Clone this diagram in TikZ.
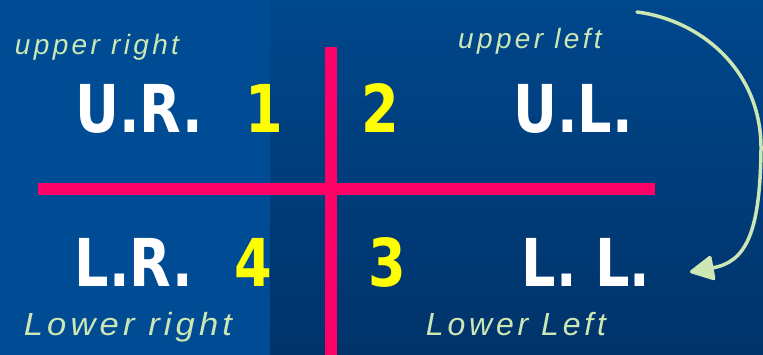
\documentclass[tikz,border=0pt]{standalone}
\usepackage{fontspec}
\usepackage{tikz}
\usetikzlibrary{arrows.meta}
\newfontfamily\labelfont{DejaVu Sans}
\newfontfamily\handfont[LetterSpace=12]{Liberation Sans}
\definecolor{leftblue}{RGB}{0, 76, 148}
\definecolor{topblue}{RGB}{0, 71, 140}
\definecolor{bottomblue}{RGB}{0, 51, 106}
\definecolor{crosspink}{RGB}{255, 0, 102}
\definecolor{numyellow}{RGB}{255, 255, 0}
\definecolor{handgreen}{RGB}{204, 230, 180}

\begin{document}
\begin{tikzpicture}[x=1pt, y=-1pt,
		quad/.style={text=white, anchor=base, inner sep=0pt, xscale=0.82, font=\labelfont\bfseries\fontsize{66}{66}\selectfont},
		num/.style={quad, text=numyellow},
		hand/.style={text=handgreen, inner sep=0pt, font=\handfont\itshape\fontsize{28}{28}\selectfont},
		bighand/.style={hand, font=\handfont\itshape\fontsize{32}{32}\selectfont}]
					\useasboundingbox (0,0) rectangle (763,355);
					\fill[leftblue] (0,0) rectangle (270,355);
					\shade[top color=topblue, bottom color=bottomblue] (270,0) rectangle (763,355);
					% cross
					\draw[crosspink, line width=12pt] (331,47) -- (331,355);
					\draw[crosspink, line width=12pt] (38,189) -- (655,189);
					% quadrants
					\node[quad] (ur) at (139,133) {U.R.};
					\node[num] (one) at (264,133) {1};
					\node[num] (two) at (380,133) {2};
					\node[quad] (ul) at (573,133) {U.L.};
					\node[quad] (lr) at (134,287) {L.R.};
					\node[num] (four) at (253,287) {4};
					\node[num] (three) at (387,287) {3};
					\node[quad] (ll) at (586,287) {L. L.};
					% notes
					\node[hand] (urnote) at (97,47) {upper right};
					\node[hand] (ulnote) at (530,41) {upper left};
					\node[bighand, xscale=1.08] (lrnote) at (128,327) {Lower right};
					\node[bighand] (llnote) at (516,324) {Lower Left};
					\coordinate (from) at (637,12);
					\coordinate (to) at (690,272);
					\draw[handgreen, line width=3.5pt, line cap=round, -{Triangle[length=26pt, width=26pt, round]}]
						(from) .. controls (700,20) and (762,70) .. (761,150)
						.. controls (760,235) and (745,262) .. (to);
				\end{tikzpicture}
\end{document}
